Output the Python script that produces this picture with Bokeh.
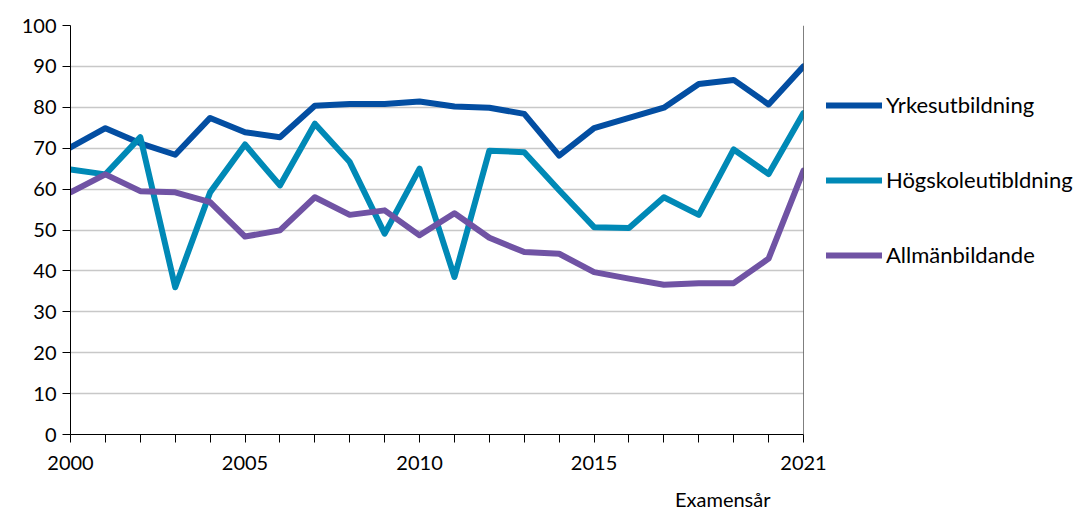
from bokeh.plotting import figure
from bokeh.models import FixedTicker, Legend, LegendItem, Title, Span
from bokeh.embed import file_html
from bokeh.resources import INLINE

years = list(range(2000, 2022))
yrkes = [70.2, 74.9, 71.2, 68.4, 77.4, 73.9, 72.7, 80.4, 80.8, 80.8, 81.4,
         80.2, 79.9, 78.4, 68.2, 74.9, 77.4, 79.9, 85.7, 86.7, 80.7, 90.0]
hogsk = [64.8, 63.6, 72.7, 36.0, 59.2, 70.9, 60.9, 76.0, 66.6, 49.1, 65.0,
         38.5, 69.4, 69.0, 59.7, 50.7, 50.5, 58.0, 53.7, 69.7, 63.7, 78.6]
allman = [59.2, 63.6, 59.5, 59.2, 56.8, 48.4, 49.9, 58.0, 53.7, 54.8, 48.7,
          54.1, 48.1, 44.6, 44.2, 39.7, 38.1, 36.6, 37.0, 37.0, 43.0, 64.5]
names = ["Yrkesutbildning", "Högskoleutibldning", "Allmänbildande"]
colors = ["#034EA2", "#0089B6", "#7053A4"]
label_years = [2000, 2005, 2010, 2015, 2021]
y_ticks = list(range(0, 101, 10))
x_title = "Examensår"

FONT = "Lato"

p = figure(frame_width=733, frame_height=409, output_backend="svg", toolbar_location=None,
           x_range=(2000, 2021), y_range=(0, 100),
           min_border_left=70, min_border_right=0, min_border_top=25,
           min_border_bottom=0)
p.outline_line_color = None
p.background_fill_color = "white"
p.border_fill_color = "white"

items = []
for vals, name, col in zip([yrkes, hogsk, allman], names, colors):
    r = p.line(years, vals, line_color=col, line_width=6, line_join="round",
               line_cap="round")
    items.append(LegendItem(label=name, renderers=[r]))

p.add_layout(Span(location=2021, dimension="height", line_color="black", line_width=1))

p.xgrid.grid_line_color = None
p.ygrid.grid_line_color = "#C8C8C8"
p.ygrid.grid_line_width = 1.5
p.ygrid.ticker = FixedTicker(ticks=y_ticks)

p.yaxis.ticker = FixedTicker(ticks=y_ticks)
p.xaxis.ticker = FixedTicker(ticks=years)
p.xaxis.major_label_overrides = {y: (str(y) if y in label_years else "") for y in years}

for ax in (p.xaxis[0], p.yaxis[0]):
    ax.axis_line_color = "black"
    ax.axis_line_width = 1
    ax.major_tick_line_color = "black"
    ax.major_tick_out = 8
    ax.major_tick_in = 0
    ax.minor_tick_line_color = None
    ax.major_label_text_font = FONT
    ax.major_label_text_font_size = "20px"
    ax.major_label_text_color = "black"
p.xaxis.major_label_standoff = 13
p.yaxis.major_label_standoff = 6

legend = Legend(items=items, location=(23, 166), orientation="vertical",
                glyph_width=56, glyph_height=20, label_height=20, spacing=48,
                padding=0, margin=0, label_standoff=4,
                label_text_font=FONT, label_text_font_size="22px",
                label_text_color="black", border_line_color=None,
                background_fill_alpha=0)
p.add_layout(legend, "right")

p.add_layout(Title(text=x_title, align="right", offset=33, text_font=FONT,
                   text_font_size="20px", text_font_style="normal",
                   text_color="black", standoff=24), "below")

open("out.html", "w").write(file_html(p, INLINE))
